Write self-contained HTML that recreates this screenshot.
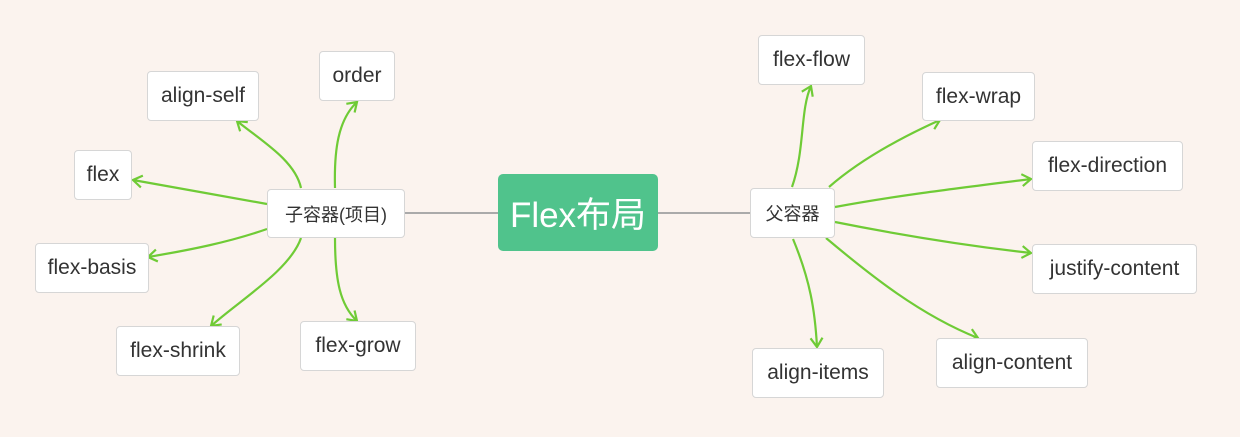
<!DOCTYPE html>
<html><head><meta charset="utf-8"><style>
body{margin:0;width:1240px;height:437px;background:#fbf3ee;position:relative;overflow:hidden;font-family:"Liberation Sans","Noto Sans CJK SC",sans-serif}
.b{position:absolute;background:#fff;border:1px solid #d6d6d6;border-radius:4px;box-sizing:border-box;display:flex;align-items:center;justify-content:center;font-size:21px;color:#333}
svg{position:absolute;left:0;top:0}
</style></head><body>
<svg width="1240" height="437">
<defs><marker id="a" markerWidth="14" markerHeight="14" refX="11" refY="7" orient="auto" markerUnits="userSpaceOnUse"><path d="M2,1 L11,7 L2,13" fill="none" stroke="#6fcb36" stroke-width="2.2"/></marker></defs>
<line x1="404" y1="213" x2="498" y2="213" stroke="#aaa" stroke-width="2"/>
<line x1="658" y1="213" x2="750" y2="213" stroke="#aaa" stroke-width="2"/>
<g fill="none" stroke="#6fcb36" stroke-width="2.2" marker-end="url(#a)">
<path d="M335,188 C334,150 338,120 357,102"/>
<path d="M301,188 C295,160 260,140 237,121"/>
<path d="M267,204 C220,196 180,188 133,180"/>
<path d="M267,229 C230,242 190,250 148,257"/>
<path d="M301,238 C290,270 240,300 211,326"/>
<path d="M335,238 C335,280 340,305 357,321"/>
<path d="M792,187 C805,150 800,110 811,86"/>
<path d="M829,187 C860,160 900,138 940,120"/>
<path d="M835,207 C900,195 960,188 1031,179"/>
<path d="M835,222 C900,235 960,245 1031,253"/>
<path d="M826,238 C870,275 920,315 978,338"/>
<path d="M793,239 C810,280 815,310 817,347"/>
</g>
</svg>
<div class="b" style="left:498px;top:174px;width:160px;height:77px;background:#50c38c;border:none;border-radius:5px;color:#fff;font-size:35px">Flex布局</div>
<div class="b" style="left:267px;top:189px;width:138px;height:49px;font-size:18px">子容器(项目)</div>
<div class="b" style="left:750px;top:188px;width:85px;height:50px;font-size:18px">父容器</div>
<div class="b" style="left:319px;top:51px;width:76px;height:50px">order</div>
<div class="b" style="left:147px;top:71px;width:112px;height:50px">align-self</div>
<div class="b" style="left:74px;top:150px;width:58px;height:50px">flex</div>
<div class="b" style="left:35px;top:243px;width:114px;height:50px">flex-basis</div>
<div class="b" style="left:116px;top:326px;width:124px;height:50px">flex-shrink</div>
<div class="b" style="left:300px;top:321px;width:116px;height:50px">flex-grow</div>
<div class="b" style="left:758px;top:35px;width:107px;height:50px">flex-flow</div>
<div class="b" style="left:922px;top:72px;width:113px;height:49px">flex-wrap</div>
<div class="b" style="left:1032px;top:141px;width:151px;height:50px">flex-direction</div>
<div class="b" style="left:1032px;top:244px;width:165px;height:50px">justify-content</div>
<div class="b" style="left:936px;top:338px;width:152px;height:50px">align-content</div>
<div class="b" style="left:752px;top:348px;width:132px;height:50px">align-items</div>
</body></html>
